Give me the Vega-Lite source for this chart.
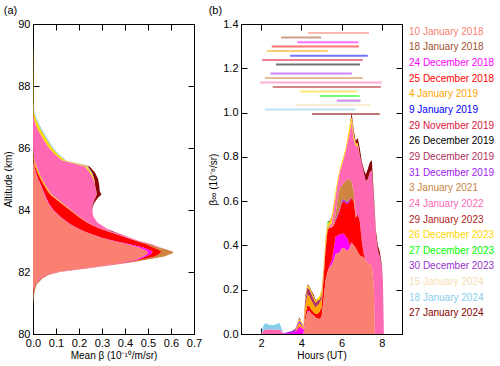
{
"$schema": "https://vega.github.io/schema/vega-lite/v6.json",
"padding": {"left": 3, "top": 4, "right": 0, "bottom": 0},
"background": "white",
"spacing": 5,
"config": {
  "font": "Liberation Sans",
  "view": {"stroke": "black", "strokeWidth": 1},
  "axis": {"grid": false, "labelColor": "black", "titleColor": "black", "labelFontSize": 11, "titleFontSize": 10, "titleFontWeight": "normal"},
  "title": {"fontSize": 11, "fontWeight": "normal", "anchor": "start", "frame": "bounds", "color": "black", "offset": 2}
},
"datasets": {
  "a": [
    {"id":11,"alt":80.9,"b":0},
    {"id":11,"alt":81.0,"b":0.001},
    {"id":11,"alt":81.2,"b":0.003},
    {"id":1,"alt":81.4,"b":0.002},{"id":4,"alt":81.4,"b":0.001},{"id":11,"alt":81.4,"b":0.005},
    {"id":1,"alt":81.6,"b":0.008},{"id":3,"alt":81.6,"b":0.001},{"id":4,"alt":81.6,"b":0.001},{"id":11,"alt":81.6,"b":0.006},
    {"id":1,"alt":81.8,"b":0.03},{"id":3,"alt":81.8,"b":0.002},{"id":4,"alt":81.8,"b":0.002},{"id":11,"alt":81.8,"b":0.008},
    {"id":1,"alt":81.9,"b":0.055},{"id":3,"alt":81.9,"b":0.002},{"id":4,"alt":81.9,"b":0.003},{"id":11,"alt":81.9,"b":0.008},
    {"id":1,"alt":82.0,"b":0.1},{"id":3,"alt":82.0,"b":0.003},{"id":4,"alt":82.0,"b":0.003},{"id":11,"alt":82.0,"b":0.009},
    {"id":1,"alt":82.1,"b":0.2},{"id":3,"alt":82.1,"b":0.004},{"id":4,"alt":82.1,"b":0.004},{"id":11,"alt":82.1,"b":0.01},
    {"id":1,"alt":82.2,"b":0.3},{"id":3,"alt":82.2,"b":0.005},{"id":4,"alt":82.2,"b":0.005},{"id":11,"alt":82.2,"b":0.012},
    {"id":1,"alt":82.3,"b":0.39},{"id":3,"alt":82.3,"b":0.006},{"id":4,"alt":82.3,"b":0.007},{"id":11,"alt":82.3,"b":0.015},
    {"id":1,"alt":82.4,"b":0.45},{"id":3,"alt":82.4,"b":0.008},{"id":4,"alt":82.4,"b":0.017},{"id":11,"alt":82.4,"b":0.025},
    {"id":1,"alt":82.5,"b":0.48},{"id":3,"alt":82.5,"b":0.01},{"id":4,"alt":82.5,"b":0.04},{"id":11,"alt":82.5,"b":0.04},
    {"id":1,"alt":82.6,"b":0.5},{"id":3,"alt":82.6,"b":0.015},{"id":4,"alt":82.6,"b":0.037},{"id":11,"alt":82.6,"b":0.053},
    {"id":1,"alt":82.65,"b":0.5},{"id":3,"alt":82.65,"b":0.02},{"id":4,"alt":82.65,"b":0.038},{"id":11,"alt":82.65,"b":0.052},
    {"id":1,"alt":82.7,"b":0.49},{"id":3,"alt":82.7,"b":0.02},{"id":4,"alt":82.7,"b":0.04},{"id":11,"alt":82.7,"b":0.04},{"id":12,"alt":82.7,"b":0.002},
    {"id":1,"alt":82.8,"b":0.46},{"id":3,"alt":82.8,"b":0.015},{"id":4,"alt":82.8,"b":0.045},{"id":11,"alt":82.8,"b":0.025},{"id":12,"alt":82.8,"b":0.005},
    {"id":1,"alt":82.9,"b":0.405},{"id":3,"alt":82.9,"b":0.01},{"id":4,"alt":82.9,"b":0.075},{"id":11,"alt":82.9,"b":0.015},{"id":12,"alt":82.9,"b":0.01},
    {"id":1,"alt":83.0,"b":0.35},{"id":3,"alt":83.0,"b":0.005},{"id":4,"alt":83.0,"b":0.095},{"id":11,"alt":83.0,"b":0.005},{"id":12,"alt":83.0,"b":0.007},
    {"id":1,"alt":83.1,"b":0.3},{"id":3,"alt":83.1,"b":0.003},{"id":4,"alt":83.1,"b":0.107},{"id":11,"alt":83.1,"b":0.003},{"id":12,"alt":83.1,"b":0.012},
    {"id":1,"alt":83.2,"b":0.26},{"id":3,"alt":83.2,"b":0.002},{"id":4,"alt":83.2,"b":0.108},{"id":11,"alt":83.2,"b":0.002},{"id":12,"alt":83.2,"b":0.018},
    {"id":1,"alt":83.3,"b":0.225},{"id":3,"alt":83.3,"b":0.002},{"id":4,"alt":83.3,"b":0.103},{"id":11,"alt":83.3,"b":0.002},{"id":12,"alt":83.3,"b":0.013},{"id":19,"alt":83.3,"b":0.007},
    {"id":1,"alt":83.4,"b":0.195},{"id":3,"alt":83.4,"b":0.002},{"id":4,"alt":83.4,"b":0.093},{"id":11,"alt":83.4,"b":0.002},{"id":12,"alt":83.4,"b":0.028},
    {"id":1,"alt":83.5,"b":0.17},{"id":3,"alt":83.5,"b":0.002},{"id":4,"alt":83.5,"b":0.088},{"id":11,"alt":83.5,"b":0.002},{"id":12,"alt":83.5,"b":0.038},
    {"id":1,"alt":83.6,"b":0.15},{"id":3,"alt":83.6,"b":0.002},{"id":4,"alt":83.6,"b":0.083},{"id":5,"alt":83.6,"b":0.001},{"id":11,"alt":83.6,"b":0.002},{"id":12,"alt":83.6,"b":0.042},
    {"id":1,"alt":83.8,"b":0.115},{"id":3,"alt":83.8,"b":0.002},{"id":4,"alt":83.8,"b":0.078},{"id":5,"alt":83.8,"b":0.002},{"id":11,"alt":83.8,"b":0.002},{"id":12,"alt":83.8,"b":0.063},
    {"id":1,"alt":84.0,"b":0.087},{"id":3,"alt":84.0,"b":0.002},{"id":4,"alt":84.0,"b":0.071},{"id":5,"alt":84.0,"b":0.003},{"id":11,"alt":84.0,"b":0.002},{"id":12,"alt":84.0,"b":0.093},
    {"id":1,"alt":84.2,"b":0.068},{"id":3,"alt":84.2,"b":0.002},{"id":4,"alt":84.2,"b":0.055},{"id":5,"alt":84.2,"b":0.004},{"id":11,"alt":84.2,"b":0.002},{"id":12,"alt":84.2,"b":0.129},{"id":19,"alt":84.2,"b":0.004},
    {"id":1,"alt":84.4,"b":0.055},{"id":3,"alt":84.4,"b":0.002},{"id":4,"alt":84.4,"b":0.033},{"id":5,"alt":84.4,"b":0.005},{"id":11,"alt":84.4,"b":0.002},{"id":12,"alt":84.4,"b":0.175},{"id":19,"alt":84.4,"b":0.011},
    {"id":1,"alt":84.5,"b":0.05},{"id":3,"alt":84.5,"b":0.002},{"id":4,"alt":84.5,"b":0.023},{"id":5,"alt":84.5,"b":0.005},{"id":11,"alt":84.5,"b":0.002},{"id":12,"alt":84.5,"b":0.196},{"id":19,"alt":84.5,"b":0.02},
    {"id":1,"alt":84.6,"b":0.045},{"id":3,"alt":84.6,"b":0.001},{"id":4,"alt":84.6,"b":0.019},{"id":5,"alt":84.6,"b":0.005},{"id":11,"alt":84.6,"b":0.002},{"id":12,"alt":84.6,"b":0.204},{"id":19,"alt":84.6,"b":0.014},
    {"id":1,"alt":84.8,"b":0.034},{"id":3,"alt":84.8,"b":0.001},{"id":4,"alt":84.8,"b":0.013},{"id":5,"alt":84.8,"b":0.005},{"id":11,"alt":84.8,"b":0.002},{"id":12,"alt":84.8,"b":0.215},{"id":19,"alt":84.8,"b":0.018},
    {"id":1,"alt":85.0,"b":0.022},{"id":3,"alt":85.0,"b":0.001},{"id":4,"alt":85.0,"b":0.01},{"id":5,"alt":85.0,"b":0.005},{"id":11,"alt":85.0,"b":0.002},{"id":12,"alt":85.0,"b":0.223},{"id":14,"alt":85.0,"b":0.003},{"id":19,"alt":85.0,"b":0.017},
    {"id":1,"alt":85.2,"b":0.012},{"id":3,"alt":85.2,"b":0.001},{"id":4,"alt":85.2,"b":0.007},{"id":5,"alt":85.2,"b":0.005},{"id":11,"alt":85.2,"b":0.002},{"id":12,"alt":85.2,"b":0.221},{"id":14,"alt":85.2,"b":0.007},{"id":18,"alt":85.2,"b":0.002},{"id":19,"alt":85.2,"b":0.013},
    {"id":1,"alt":85.4,"b":0.006},{"id":4,"alt":85.4,"b":0.004},{"id":5,"alt":85.4,"b":0.004},{"id":11,"alt":85.4,"b":0.002},{"id":12,"alt":85.4,"b":0.21},{"id":14,"alt":85.4,"b":0.009},{"id":18,"alt":85.4,"b":0.003},{"id":19,"alt":85.4,"b":0.008},
    {"id":1,"alt":85.5,"b":0.003},{"id":4,"alt":85.5,"b":0.002},{"id":5,"alt":85.5,"b":0.004},{"id":11,"alt":85.5,"b":0.001},{"id":12,"alt":85.5,"b":0.17},{"id":14,"alt":85.5,"b":0.01},{"id":18,"alt":85.5,"b":0.004},{"id":19,"alt":85.5,"b":0.003},
    {"id":1,"alt":85.6,"b":0.001},{"id":4,"alt":85.6,"b":0.001},{"id":5,"alt":85.6,"b":0.003},{"id":11,"alt":85.6,"b":0.001},{"id":12,"alt":85.6,"b":0.122},{"id":14,"alt":85.6,"b":0.012},{"id":18,"alt":85.6,"b":0.005},
    {"id":5,"alt":85.8,"b":0.001},{"id":11,"alt":85.8,"b":0.001},{"id":12,"alt":85.8,"b":0.093},{"id":14,"alt":85.8,"b":0.013},{"id":18,"alt":85.8,"b":0.005},
    {"id":12,"alt":86.0,"b":0.07},{"id":14,"alt":86.0,"b":0.013},{"id":18,"alt":86.0,"b":0.005},
    {"id":12,"alt":86.2,"b":0.052},{"id":14,"alt":86.2,"b":0.014},{"id":18,"alt":86.2,"b":0.005},
    {"id":12,"alt":86.4,"b":0.036},{"id":14,"alt":86.4,"b":0.014},{"id":18,"alt":86.4,"b":0.005},
    {"id":12,"alt":86.6,"b":0.021},{"id":14,"alt":86.6,"b":0.013},{"id":18,"alt":86.6,"b":0.005},
    {"id":12,"alt":86.8,"b":0.01},{"id":14,"alt":86.8,"b":0.011},{"id":18,"alt":86.8,"b":0.004},
    {"id":12,"alt":87.0,"b":0.003},{"id":14,"alt":87.0,"b":0.007},{"id":18,"alt":87.0,"b":0.003},
    {"id":12,"alt":87.2,"b":0.001},{"id":14,"alt":87.2,"b":0.003},{"id":18,"alt":87.2,"b":0.002},
    {"id":14,"alt":87.5,"b":0.002},
    {"id":14,"alt":88.0,"b":0.002},
    {"id":14,"alt":89.0,"b":0.001},
    {"id":14,"alt":89.5,"b":0}
  ],
  "b": [
    {"id":12,"h":2.0,"b":0},
    {"id":12,"h":2.1,"b":0.015},{"id":18,"h":2.1,"b":0.02},
    {"id":12,"h":2.2,"b":0.02},{"id":18,"h":2.2,"b":0.028},
    {"id":12,"h":2.4,"b":0.022},{"id":18,"h":2.4,"b":0.02},
    {"id":12,"h":2.6,"b":0.02},{"id":18,"h":2.6,"b":0.02},
    {"id":12,"h":2.8,"b":0.02},{"id":18,"h":2.8,"b":0.026},
    {"id":12,"h":2.9,"b":0.022},{"id":18,"h":2.9,"b":0.028},
    {"id":12,"h":3.0,"b":0.015},{"id":18,"h":3.0,"b":0.015},
    {"id":10,"h":3.1,"b":0.003},
    {"id":3,"h":3.3,"b":0.003},{"id":10,"h":3.3,"b":0.005},
    {"id":3,"h":3.5,"b":0.005},{"id":10,"h":3.5,"b":0.007},
    {"id":3,"h":3.7,"b":0.01},{"id":10,"h":3.7,"b":0.008},{"id":19,"h":3.7,"b":0.005},
    {"id":3,"h":3.8,"b":0.02},{"id":4,"h":3.8,"b":0.005},{"id":5,"h":3.8,"b":0.01},{"id":10,"h":3.8,"b":0.01},{"id":14,"h":3.8,"b":0.005},
    {"id":3,"h":3.9,"b":0.03},{"id":4,"h":3.9,"b":0.005},{"id":5,"h":3.9,"b":0.015},{"id":10,"h":3.9,"b":0.01},{"id":14,"h":3.9,"b":0.008},{"id":19,"h":3.9,"b":0.007},
    {"id":3,"h":4.0,"b":0.03},{"id":5,"h":4.0,"b":0.01},{"id":10,"h":4.0,"b":0.01},{"id":14,"h":4.0,"b":0.005},
    {"id":3,"h":4.1,"b":0.02},{"id":5,"h":4.1,"b":0.01},{"id":10,"h":4.1,"b":0.005},{"id":14,"h":4.1,"b":0.005},
    {"id":1,"h":4.2,"b":0.06},{"id":3,"h":4.2,"b":0.005},{"id":4,"h":4.2,"b":0.025},{"id":5,"h":4.2,"b":0.04},{"id":9,"h":4.2,"b":0.02},{"id":14,"h":4.2,"b":0.01},{"id":19,"h":4.2,"b":0.01},
    {"id":1,"h":4.3,"b":0.1},{"id":3,"h":4.3,"b":0.005},{"id":4,"h":4.3,"b":0.025},{"id":5,"h":4.3,"b":0.05},{"id":9,"h":4.3,"b":0.03},{"id":14,"h":4.3,"b":0.01},{"id":19,"h":4.3,"b":0.005},
    {"id":1,"h":4.4,"b":0.1},{"id":3,"h":4.4,"b":0.003},{"id":4,"h":4.4,"b":0.022},{"id":5,"h":4.4,"b":0.045},{"id":9,"h":4.4,"b":0.03},{"id":14,"h":4.4,"b":0.01},{"id":19,"h":4.4,"b":0.005},
    {"id":1,"h":4.5,"b":0.09},{"id":3,"h":4.5,"b":0.002},{"id":4,"h":4.5,"b":0.018},{"id":5,"h":4.5,"b":0.04},{"id":9,"h":4.5,"b":0.03},{"id":14,"h":4.5,"b":0.01},{"id":19,"h":4.5,"b":0.005},
    {"id":1,"h":4.6,"b":0.085},{"id":4,"h":4.6,"b":0.015},{"id":5,"h":4.6,"b":0.035},{"id":9,"h":4.6,"b":0.025},{"id":14,"h":4.6,"b":0.01},{"id":19,"h":4.6,"b":0.01},
    {"id":1,"h":4.7,"b":0.075},{"id":4,"h":4.7,"b":0.015},{"id":5,"h":4.7,"b":0.03},{"id":9,"h":4.7,"b":0.02},{"id":14,"h":4.7,"b":0.01},{"id":19,"h":4.7,"b":0.005},
    {"id":1,"h":4.8,"b":0.07},{"id":4,"h":4.8,"b":0.02},{"id":5,"h":4.8,"b":0.04},{"id":9,"h":4.8,"b":0.02},{"id":14,"h":4.8,"b":0.01},
    {"id":1,"h":4.9,"b":0.068},{"id":4,"h":4.9,"b":0.032},{"id":5,"h":4.9,"b":0.04},{"id":9,"h":4.9,"b":0.015},{"id":14,"h":4.9,"b":0.015},
    {"id":1,"h":5.0,"b":0.075},{"id":4,"h":5.0,"b":0.045},{"id":5,"h":5.0,"b":0.04},{"id":9,"h":5.0,"b":0.015},{"id":14,"h":5.0,"b":0.02},
    {"id":1,"h":5.1,"b":0.15},{"id":4,"h":5.1,"b":0.1},{"id":5,"h":5.1,"b":0.02},{"id":9,"h":5.1,"b":0.01},{"id":14,"h":5.1,"b":0.02},
    {"id":1,"h":5.2,"b":0.24},{"id":4,"h":5.2,"b":0.14},{"id":5,"h":5.2,"b":0.02},{"id":14,"h":5.2,"b":0.02},{"id":19,"h":5.2,"b":0.01},
    {"id":1,"h":5.3,"b":0.28},{"id":4,"h":5.3,"b":0.19},{"id":5,"h":5.3,"b":0.02},{"id":14,"h":5.3,"b":0.01},{"id":15,"h":5.3,"b":0.01},
    {"id":1,"h":5.4,"b":0.3},{"id":3,"h":5.4,"b":0.01},{"id":4,"h":5.4,"b":0.17},{"id":11,"h":5.4,"b":0.005},{"id":12,"h":5.4,"b":0.005},{"id":14,"h":5.4,"b":0.015},{"id":19,"h":5.4,"b":0.005},
    {"id":1,"h":5.5,"b":0.31},{"id":3,"h":5.5,"b":0.02},{"id":4,"h":5.5,"b":0.15},{"id":12,"h":5.5,"b":0.02},{"id":14,"h":5.5,"b":0.025},{"id":19,"h":5.5,"b":0.005},
    {"id":1,"h":5.6,"b":0.33},{"id":3,"h":5.6,"b":0.05},{"id":4,"h":5.6,"b":0.11},{"id":11,"h":5.6,"b":0.01},{"id":12,"h":5.6,"b":0.055},{"id":14,"h":5.6,"b":0.025},{"id":19,"h":5.6,"b":0.005},
    {"id":1,"h":5.7,"b":0.36},{"id":3,"h":5.7,"b":0.08},{"id":4,"h":5.7,"b":0.07},{"id":10,"h":5.7,"b":0.01},{"id":11,"h":5.7,"b":0.02},{"id":12,"h":5.7,"b":0.08},{"id":14,"h":5.7,"b":0.025},
    {"id":1,"h":5.8,"b":0.365},{"id":3,"h":5.8,"b":0.08},{"id":4,"h":5.8,"b":0.085},{"id":10,"h":5.8,"b":0.01},{"id":11,"h":5.8,"b":0.07},{"id":12,"h":5.8,"b":0.07},{"id":14,"h":5.8,"b":0.02},
    {"id":1,"h":5.9,"b":0.368},{"id":3,"h":5.9,"b":0.082},{"id":4,"h":5.9,"b":0.106},{"id":10,"h":5.9,"b":0.01},{"id":11,"h":5.9,"b":0.09},{"id":12,"h":5.9,"b":0.074},{"id":14,"h":5.9,"b":0.01},
    {"id":1,"h":6.0,"b":0.385},{"id":3,"h":6.0,"b":0.065},{"id":4,"h":6.0,"b":0.14},{"id":10,"h":6.0,"b":0.01},{"id":11,"h":6.0,"b":0.07},{"id":12,"h":6.0,"b":0.09},{"id":14,"h":6.0,"b":0.015},
    {"id":1,"h":6.1,"b":0.39},{"id":3,"h":6.1,"b":0.065},{"id":4,"h":6.1,"b":0.145},{"id":10,"h":6.1,"b":0.01},{"id":11,"h":6.1,"b":0.07},{"id":12,"h":6.1,"b":0.11},{"id":14,"h":6.1,"b":0.015},
    {"id":1,"h":6.2,"b":0.38},{"id":3,"h":6.2,"b":0.06},{"id":4,"h":6.2,"b":0.15},{"id":10,"h":6.2,"b":0.01},{"id":11,"h":6.2,"b":0.09},{"id":12,"h":6.2,"b":0.135},{"id":14,"h":6.2,"b":0.015},
    {"id":1,"h":6.3,"b":0.375},{"id":3,"h":6.3,"b":0.055},{"id":4,"h":6.3,"b":0.156},{"id":10,"h":6.3,"b":0.01},{"id":11,"h":6.3,"b":0.099},{"id":12,"h":6.3,"b":0.175},{"id":14,"h":6.3,"b":0.02},
    {"id":1,"h":6.4,"b":0.39},{"id":3,"h":6.4,"b":0.01},{"id":4,"h":6.4,"b":0.2},{"id":10,"h":6.4,"b":0.01},{"id":11,"h":6.4,"b":0.09},{"id":12,"h":6.4,"b":0.21},{"id":14,"h":6.4,"b":0.03},
    {"id":1,"h":6.5,"b":0.41},{"id":3,"h":6.5,"b":0.005},{"id":4,"h":6.5,"b":0.201},{"id":11,"h":6.5,"b":0.069},{"id":12,"h":6.5,"b":0.275},{"id":14,"h":6.5,"b":0.02},{"id":19,"h":6.5,"b":0.018},
    {"id":1,"h":6.6,"b":0.4},{"id":4,"h":6.6,"b":0.2},{"id":11,"h":6.6,"b":0.04},{"id":12,"h":6.6,"b":0.24},{"id":14,"h":6.6,"b":0.02},{"id":19,"h":6.6,"b":0.02},
    {"id":1,"h":6.7,"b":0.39},{"id":4,"h":6.7,"b":0.135},{"id":11,"h":6.7,"b":0.005},{"id":12,"h":6.7,"b":0.32},{"id":14,"h":6.7,"b":0.01},{"id":19,"h":6.7,"b":0.012},
    {"id":1,"h":6.8,"b":0.37},{"id":4,"h":6.8,"b":0.17},{"id":12,"h":6.8,"b":0.31},{"id":14,"h":6.8,"b":0.01},{"id":19,"h":6.8,"b":0.025},
    {"id":1,"h":6.9,"b":0.355},{"id":4,"h":6.9,"b":0.155},{"id":12,"h":6.9,"b":0.3},{"id":19,"h":6.9,"b":0.03},
    {"id":1,"h":7.0,"b":0.35},{"id":4,"h":7.0,"b":0.07},{"id":12,"h":7.0,"b":0.35},{"id":19,"h":7.0,"b":0.01},
    {"id":1,"h":7.1,"b":0.345},{"id":4,"h":7.1,"b":0.015},{"id":12,"h":7.1,"b":0.37},{"id":19,"h":7.1,"b":0.015},
    {"id":1,"h":7.2,"b":0.33},{"id":12,"h":7.2,"b":0.36},{"id":19,"h":7.2,"b":0.03},
    {"id":1,"h":7.3,"b":0.32},{"id":12,"h":7.3,"b":0.38},{"id":19,"h":7.3,"b":0.045},
    {"id":1,"h":7.4,"b":0.315},{"id":12,"h":7.4,"b":0.415},{"id":19,"h":7.4,"b":0.045},
    {"id":1,"h":7.5,"b":0.31},{"id":12,"h":7.5,"b":0.43},{"id":19,"h":7.5,"b":0.045},
    {"id":1,"h":7.6,"b":0.21},{"id":12,"h":7.6,"b":0.39},{"id":19,"h":7.6,"b":0.03},
    {"id":12,"h":7.65,"b":0.53},{"id":19,"h":7.65,"b":0.02},
    {"id":12,"h":7.7,"b":0.45},{"id":19,"h":7.7,"b":0.02},
    {"id":12,"h":7.8,"b":0.38},{"id":19,"h":7.8,"b":0.02},
    {"id":12,"h":7.9,"b":0.35},{"id":19,"h":7.9,"b":0.02},
    {"id":12,"h":8.0,"b":0.3},{"id":19,"h":8.0,"b":0.01},
    {"id":12,"h":8.05,"b":0.25},
    {"id":12,"h":8.1,"b":0}
  ],
  "seg": [
    {"id":1,"t0":4.32,"t1":7.36,"y":1.359},
    {"id":2,"t0":2.99,"t1":4.98,"y":1.339},
    {"id":3,"t0":3.79,"t1":6.84,"y":1.318},
    {"id":4,"t0":2.53,"t1":6.86,"y":1.298},
    {"id":5,"t0":2.29,"t1":5.31,"y":1.278},
    {"id":6,"t0":3.44,"t1":7.30,"y":1.257},
    {"id":7,"t0":2.05,"t1":7.05,"y":1.237},
    {"id":8,"t0":2.74,"t1":6.92,"y":1.217},
    {"id":10,"t0":2.46,"t1":6.51,"y":1.176},
    {"id":11,"t0":2.19,"t1":7.05,"y":1.156},
    {"id":12,"t0":1.95,"t1":7.99,"y":1.136},
    {"id":13,"t0":2.58,"t1":7.95,"y":1.115},
    {"id":14,"t0":3.94,"t1":6.76,"y":1.095},
    {"id":15,"t0":4.90,"t1":6.89,"y":1.075},
    {"id":16,"t0":5.76,"t1":6.94,"y":1.054},
    {"id":17,"t0":3.74,"t1":7.44,"y":1.034},
    {"id":18,"t0":2.19,"t1":6.69,"y":1.014},
    {"id":19,"t0":4.53,"t1":7.89,"y":0.993}
  ],
  "leg": [
    {"id":1,"label":"10 January 2018"},
    {"id":2,"label":"18 January 2018"},
    {"id":3,"label":"24 December 2018"},
    {"id":4,"label":"25 December 2018"},
    {"id":5,"label":"\u00a04 January 2019"},
    {"id":6,"label":"\u00a09 January 2019"},
    {"id":7,"label":"29 November 2019"},
    {"id":8,"label":"26 December 2019"},
    {"id":9,"label":"29 December 2019"},
    {"id":10,"label":"31 December 2019"},
    {"id":11,"label":"\u00a03 January 2021"},
    {"id":12,"label":"24 January 2022"},
    {"id":13,"label":"29 January 2023"},
    {"id":14,"label":"26 December 2023"},
    {"id":15,"label":"27 December 2023"},
    {"id":16,"label":"30 December 2023"},
    {"id":17,"label":"15 January 2024"},
    {"id":18,"label":"18 January 2024"},
    {"id":19,"label":"27 January 2024"}
  ]
},
"hconcat": [
  {
    "width": 161, "height": 310,
    "title": {"text": "(a)"},
    "data": {"name": "a"},
    "resolve": {"axis": {"x": "independent", "y": "independent"}},
    "layer": [
      {
        "mark": {"type": "area", "orient": "horizontal"},
        "encoding": {
          "y": {"field": "alt", "type": "quantitative", "scale": {"domain": [80, 90], "nice": false, "zero": false},
                "axis": {"orient": "left", "tickCount": 5, "tickSize": -6, "tickColor": "black", "domainColor": "black", "labelFlush": false, "labelPadding": 9, "title": "Altitude (km)", "titlePadding": 4}},
          "x": {"field": "b", "type": "quantitative", "stack": "zero", "scale": {"domain": [0, 0.7], "nice": false, "zero": false},
                "axis": {"orient": "bottom", "tickCount": 7, "tickSize": -6, "tickColor": "black", "domainColor": "black", "labelFlush": false, "labelPadding": 9, "format": ".1f", "title": "Mean β (10⁻¹⁰/m/sr)", "titlePadding": 2}},
          "color": {"field": "id", "type": "nominal", "legend": null,
                    "scale": {"domain": [1,2,3,4,5,6,7,8,9,10,11,12,13,14,15,16,17,18,19],
                              "range": ["#fa8072","#a0522d","#ff00ff","#ff0000","#ffa500","#0000ff","#dc143c","#000000","#b03060","#a020f0","#cd853f","#ff69b4","#b22222","#ffd700","#00ff00","#9932cc","#f5deb3","#87ceeb","#8b0000"]}},
          "order": {"field": "id", "type": "quantitative"}
        }
      },
      {
        "mark": {"type": "point", "opacity": 0},
        "encoding": {
          "y": {"field": "alt", "type": "quantitative", "scale": {"domain": [80, 90], "nice": false, "zero": false},
                "axis": {"orient": "right", "tickCount": 5, "tickSize": -6, "tickColor": "black", "domainColor": "black", "labels": false, "title": null}},
          "x": {"field": "b", "type": "quantitative", "scale": {"domain": [0, 0.7], "nice": false, "zero": false},
                "axis": {"orient": "top", "tickCount": 7, "tickSize": -6, "tickColor": "black", "domainColor": "black", "labels": false, "title": null}}
        }
      }
    ]
  },
  {
    "width": 161, "height": 310,
    "title": {"text": "(b)"},
    "resolve": {"axis": {"x": "independent", "y": "independent"}},
    "layer": [
      {
        "data": {"name": "b"},
        "mark": {"type": "area"},
        "encoding": {
          "x": {"field": "h", "type": "quantitative", "scale": {"domain": [1, 9], "nice": false, "zero": false},
                "axis": {"orient": "bottom", "tickCount": 4, "tickSize": -6, "tickColor": "black", "domainColor": "black", "labelFlush": false, "labelPadding": 9, "title": "Hours (UT)", "titlePadding": 2}},
          "y": {"field": "b", "type": "quantitative", "stack": "zero", "scale": {"domain": [0, 1.4], "nice": false, "zero": false},
                "axis": {"orient": "left", "tickCount": 7, "tickSize": -6, "tickColor": "black", "domainColor": "black", "labelFlush": false, "labelPadding": 9, "format": ".1f", "title": "β∞ (10⁻⁸/sr)", "titlePadding": 4}},
          "color": {"field": "id", "type": "nominal", "legend": null},
          "order": {"field": "id", "type": "quantitative"}
        }
      },
      {
        "data": {"name": "seg"},
        "mark": {"type": "rule", "strokeWidth": 2, "opacity": 0.55},
        "encoding": {
          "x": {"field": "t0", "type": "quantitative", "scale": {"domain": [1, 9], "nice": false, "zero": false}, "axis": null},
          "x2": {"field": "t1"},
          "y": {"field": "y", "type": "quantitative", "scale": {"domain": [0, 1.4], "nice": false, "zero": false}, "axis": null},
          "color": {"field": "id", "type": "nominal", "legend": null}
        }
      },
      {
        "data": {"name": "b"},
        "mark": {"type": "point", "opacity": 0},
        "encoding": {
          "x": {"field": "h", "type": "quantitative", "scale": {"domain": [1, 9], "nice": false, "zero": false},
                "axis": {"orient": "top", "tickCount": 4, "tickSize": -6, "tickColor": "black", "domainColor": "black", "labels": false, "title": null}},
          "y": {"field": "b", "type": "quantitative", "scale": {"domain": [0, 1.4], "nice": false, "zero": false},
                "axis": {"orient": "right", "tickCount": 7, "tickSize": -6, "tickColor": "black", "domainColor": "black", "labels": false, "title": null}}
        }
      }
    ]
  },
  {
    "width": 85, "height": 310,
    "view": {"stroke": null},
    "data": {"name": "leg"},
    "mark": {"type": "text", "align": "left", "baseline": "middle", "fontSize": 10, "dx": 1},
    "encoding": {
      "y": {"field": "id", "type": "quantitative", "scale": {"domain": [0.5, 20.32], "reverse": true, "nice": false, "zero": false}, "axis": null},
      "x": {"datum": 0, "type": "quantitative", "scale": {"domain": [0, 1]}, "axis": null},
      "text": {"field": "label"},
      "color": {"field": "id", "type": "nominal", "legend": null}
    }
  }
]
}
